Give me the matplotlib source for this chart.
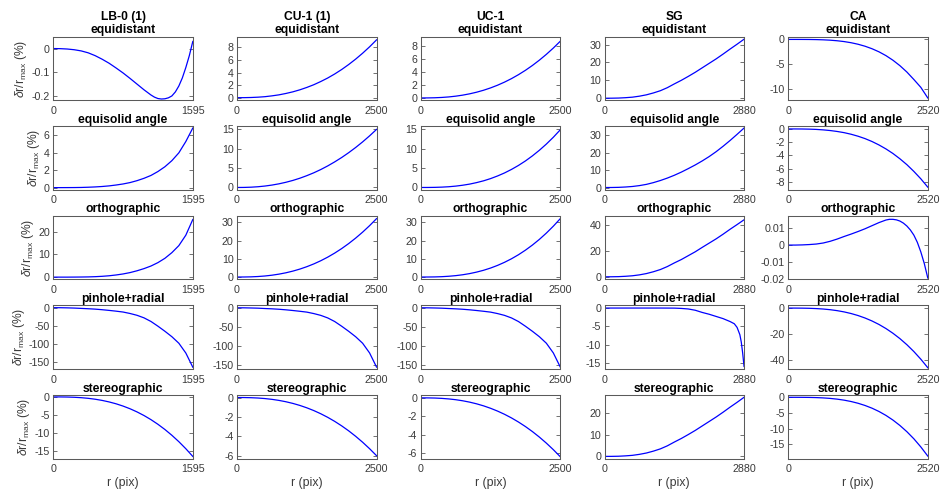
import matplotlib
matplotlib.use('Agg')
import matplotlib.pyplot as plt
from matplotlib.ticker import FuncFormatter

plt.rcParams['font.family'] = ['Liberation Sans', 'DejaVu Sans']
plt.rcParams['axes.unicode_minus'] = False
plt.rcParams['mathtext.fontset'] = 'custom'
plt.rcParams['mathtext.rm'] = 'Liberation Sans'
plt.rcParams['mathtext.it'] = 'Liberation Sans:italic'

# ---------------- data ----------------
cameras = ['LB-0 (1)', 'CU-1 (1)', 'UC-1', 'SG', 'CA']
projections = ['equidistant', 'equisolid angle', 'orthographic', 'pinhole+radial', 'stereographic']
r_max = [1595, 2500, 2500, 2880, 2520]

# fraction of r_max at which values were read
frac = [0, .05, .1, .15, .2, .25, .3, .35, .4, .45, .5,
        .55, .6, .65, .7, .75, .8, .85, .9, .95, 1.0]
frac_fine = [0, .05, .1, .15, .2, .25, .3, .35, .4, .45, .5, .55, .6, .65,
             .7, .725, .75, .775, .8, .825, .85, .875, .9, .925, .95, .975, 1.0]
frac_sg_pinhole = [0, .1, .2, .3, .4, .5, .55, .6, .65, .7, .75,
                   .8, .85, .9, .93, .95, .97, .98, .99, 1.0]

# equidistant (LB-0 on frac_fine)
lb0_equidistant = [0, -0.0005, -0.002, -0.005, -0.01, -0.018, -0.03, -0.045, -0.062, -0.082, -0.103,
                   -0.126, -0.15, -0.174, -0.196, -0.205, -0.211, -0.213, -0.212, -0.208, -0.2,
                   -0.183, -0.158, -0.124, -0.08, -0.03, 0.03]
cu1_equidistant = [0, 0.005, 0.03, 0.08, 0.16, 0.29, 0.45, 0.67, 0.93, 1.25, 1.63,
                   2.06, 2.57, 3.13, 3.77, 4.48, 5.27, 6.13, 7.07, 8.09, 9.2]
uc1_equidistant = [0, 0.005, 0.028, 0.077, 0.157, 0.275, 0.434, 0.638, 0.89, 1.195, 1.556,
                   1.974, 2.454, 2.997, 3.608, 4.286, 5.037, 5.862, 6.762, 7.74, 8.8]
sg_equidistant = [0, 0.02, 0.1, 0.3, 0.6, 1.15, 1.9, 2.95, 4.2, 5.9, 8.0,
                  10.0, 12.2, 14.5, 17.0, 19.5, 22.0, 24.7, 27.5, 30.2, 33.0]
ca_equidistant = [0, 0, -0.003, -0.013, -0.036, -0.081, -0.155, -0.27, -0.437, -0.668, -0.977,
                  -1.377, -1.884, -2.51, -3.28, -4.21, -5.31, -6.6, -8.11, -9.7, -11.85]
# equisolid angle
lb0_equisolid = [0, 0, 0.003, 0.008, 0.02, 0.045, 0.08, 0.13, 0.2, 0.3, 0.42,
                 0.58, 0.8, 1.07, 1.4, 1.85, 2.4, 3.1, 4.0, 5.3, 6.85]
cu1_equisolid = [0, 0.015, 0.075, 0.19, 0.37, 0.62, 0.94, 1.34, 1.82, 2.39, 3.05,
                 3.79, 4.63, 5.57, 6.61, 7.74, 8.98, 10.32, 11.77, 13.33, 15.0]
uc1_equisolid = [0, 0.005, 0.03, 0.089, 0.19, 0.35, 0.58, 0.87, 1.26, 1.72, 2.29,
                 2.97, 3.75, 4.66, 5.69, 6.85, 8.16, 9.61, 11.21, 12.97, 14.9]
sg_equisolid = [0, 0.02, 0.1, 0.3, 0.6, 1.1, 1.8, 2.8, 4.0, 5.4, 7.0,
                8.8, 10.8, 12.9, 15.2, 17.7, 20.5, 23.6, 26.9, 30.4, 34.0]
ca_equisolid = [0, -0.001, -0.009, -0.03, -0.07, -0.14, -0.24, -0.38, -0.56, -0.8, -1.1,
                -1.46, -1.9, -2.42, -3.02, -3.71, -4.51, -5.4, -6.42, -7.54, -8.8]
# orthographic (CA on frac_fine)
lb0_orthographic = [0, 0, 0, 0.02, 0.05, 0.1, 0.2, 0.36, 0.6, 0.95, 1.4,
                    2.0, 2.8, 3.75, 4.9, 6.4, 8.3, 10.8, 13.9, 18.5, 25.4]
cu1_orthographic = [0, 0.02, 0.1, 0.28, 0.57, 1.0, 1.58, 2.32, 3.24, 4.35, 5.66,
                    7.18, 8.92, 10.9, 13.12, 15.59, 18.32, 21.32, 24.59, 28.15, 32.0]
uc1_orthographic = [0, 0.01, 0.06, 0.19, 0.42, 0.76, 1.24, 1.88, 2.7, 3.7, 4.92,
                    6.37, 8.06, 10.0, 12.21, 14.72, 17.52, 20.63, 24.08, 27.86, 32.0]
sg_orthographic = [0, 0.03, 0.13, 0.4, 0.8, 1.5, 2.5, 3.9, 5.6, 7.9, 10.7,
                   13.3, 16.3, 19.3, 22.7, 26.0, 29.3, 32.9, 36.7, 40.3, 44.0]
ca_orthographic = [0, 0, 0.0001, 0.0003, 0.0006, 0.0012, 0.0022, 0.0035, 0.005, 0.0064, 0.0079,
                   0.0095, 0.0113, 0.0131, 0.0146, 0.015, 0.015, 0.0147, 0.014, 0.0128, 0.0111,
                   0.0088, 0.0058, 0.0016, -0.004, -0.0108, -0.0192]
# pinhole + radial
lb0_pinhole = [0, -0.1, -0.5, -1.1, -2.0, -2.9, -4.0, -5.6, -7.5, -9.6, -12.0,
               -16.0, -21.0, -28.0, -38.0, -51.0, -65.0, -80.0, -98.0, -125.0, -164.0]
cu1_pinhole = [0, -0.1, -0.5, -1.0, -1.9, -2.7, -3.8, -5.3, -7.1, -9.1, -11.3,
               -15.1, -19.8, -26.5, -35.9, -48.2, -61.4, -75.6, -92.6, -118.0, -155.0]
uc1_pinhole = [0, -0.1, -0.5, -1.0, -1.9, -2.7, -3.8, -5.3, -7.1, -9.1, -11.3,
               -15.1, -19.8, -26.5, -35.9, -48.2, -61.4, -75.6, -92.6, -118.0, -155.0]
sg_pinhole = [0, 0, 0, 0, 0, -0.02, -0.1, -0.25, -0.6, -1.2, -1.7,
              -2.3, -2.9, -3.7, -4.3, -5.3, -7.3, -9.3, -12.3, -16.0]
ca_pinhole = [0, -0.006, -0.05, -0.16, -0.37, -0.72, -1.24, -1.97, -2.94, -4.19, -5.75,
              -7.65, -9.94, -12.63, -15.78, -19.41, -23.55, -28.25, -33.53, -39.44, -46.0]
# stereographic
lb0_stereographic = [0, -0.005, -0.033, -0.098, -0.213, -0.389, -0.635, -0.963, -1.383, -1.897, -2.524,
                     -3.264, -4.13, -5.125, -6.26, -7.544, -8.977, -10.575, -12.339, -14.279, -16.4]
cu1_stereographic = [0, -0.003, -0.019, -0.052, -0.107, -0.188, -0.296, -0.435, -0.607, -0.815, -1.061,
                     -1.346, -1.673, -2.044, -2.46, -2.923, -3.434, -3.997, -4.61, -5.278, -6.0]
uc1_stereographic = [0, -0.004, -0.02, -0.056, -0.115, -0.2, -0.316, -0.464, -0.648, -0.869, -1.132,
                     -1.436, -1.785, -2.18, -2.624, -3.117, -3.663, -4.263, -4.918, -5.629, -6.4]
sg_stereographic = [0, 0.02, 0.08, 0.25, 0.49, 0.94, 1.55, 2.41, 3.44, 4.83, 6.55,
                    8.18, 9.98, 11.86, 13.91, 15.95, 18.0, 20.2, 22.5, 24.7, 27.0]
ca_stereographic = [0, -0.001, -0.009, -0.036, -0.092, -0.193, -0.352, -0.585, -0.909, -1.339, -1.898,
                    -2.6, -3.46, -4.51, -5.76, -7.24, -8.96, -10.94, -13.2, -15.79, -18.7]

series = [
    [lb0_equidistant, cu1_equidistant, uc1_equidistant, sg_equidistant, ca_equidistant],
    [lb0_equisolid, cu1_equisolid, uc1_equisolid, sg_equisolid, ca_equisolid],
    [lb0_orthographic, cu1_orthographic, uc1_orthographic, sg_orthographic, ca_orthographic],
    [lb0_pinhole, cu1_pinhole, uc1_pinhole, sg_pinhole, ca_pinhole],
    [lb0_stereographic, cu1_stereographic, uc1_stereographic, sg_stereographic, ca_stereographic],
]
grids = {(0, 0): frac_fine, (2, 4): frac_fine, (3, 3): frac_sg_pinhole}

y_ticks = [
    [[-0.2, -0.1, 0], [0, 2, 4, 6, 8], [0, 2, 4, 6, 8], [0, 10, 20, 30], [-10, -5, 0]],
    [[0, 2, 4, 6], [0, 5, 10, 15], [0, 5, 10, 15], [0, 10, 20, 30], [-8, -6, -4, -2, 0]],
    [[0, 10, 20], [0, 10, 20, 30], [0, 10, 20, 30], [0, 20, 40], [-0.02, -0.01, 0, 0.01]],
    [[-150, -100, -50, 0], [-150, -100, -50, 0], [-150, -100, -50, 0], [-15, -10, -5, 0], [-40, -20, 0]],
    [[-15, -10, -5, 0], [-6, -4, -2, 0], [-6, -4, -2, 0], [0, 10, 20], [-15, -10, -5, 0]],
]

# ---------------- layout / style ----------------
y_limits = [
    [(-0.218, 0.05), (-0.4, 9.7), (-0.35, 9.5), (-1.1, 34.4), (-12.3, 0.55)],
    [(-0.25, 7.05), (-0.6, 15.8), (-0.6, 15.8), (-1.3, 35.0), (-9.2, 0.4)],
    [(-1.0, 27.0), (-1.3, 33.5), (-1.3, 33.5), (-2.0, 47.0), (-0.02, 0.017)],
    [(-169, 6), (-160, 6), (-160, 6), (-16.7, 0.7), (-47, 2)],
    [(-17.0, 0.5), (-6.3, 0.25), (-6.6, 0.3), (-1.0, 28.0), (-19.5, 0.7)],
]

W, H = 940, 494
fig = plt.figure(figsize=(W / 100, H / 100), dpi=100)

frame_col = '#5a5a5a'
text_col = '#3a3a3a'
fmt = FuncFormatter(lambda v, p: '%g' % (round(v, 10) + 0.0))

for i in range(5):
    for j in range(5):
        left = 53.3 + j * 183.75
        top = 36.7 + i * 89.6
        ax = fig.add_axes([left / W, 1 - (top + 63.5) / H, 139.5 / W, 63.5 / H])
        fr = grids.get((i, j), frac)
        xs = [f * r_max[j] for f in fr]
        ax.plot(xs, series[i][j], color='#0000ff', lw=0.9)
        ax.set_xlim(0, r_max[j])
        ax.set_ylim(*y_limits[i][j])
        ax.set_xticks([0, r_max[j]])
        ax.set_yticks(y_ticks[i][j])
        ax.yaxis.set_major_formatter(fmt)
        ax.tick_params(direction='in', length=3, width=0.6, colors=frame_col,
                       labelcolor=text_col, labelsize=7.7, top=True, right=True)
        ax.tick_params(axis='x', pad=4)
        ax.tick_params(axis='y', pad=2.5)
        for s in ax.spines.values():
            s.set_color(frame_col)
            s.set_linewidth(0.75)
        title = projections[i]
        if i == 0:
            title = cameras[j] + '\n' + title
        ax.set_title(title, fontsize=8.7, fontweight='bold', pad=2.5, color='black',
                     linespacing=1.15)
        if j == 0:
            ax.set_ylabel(r'$\delta$r/r$_{\mathrm{max}}$ (%)', fontsize=8.7, color=text_col,
                          labelpad=1.5)
        if i == 4:
            ax.set_xlabel('r (pix)', fontsize=8.8, color=text_col, labelpad=2)

fig.savefig('out.png', dpi=100)
